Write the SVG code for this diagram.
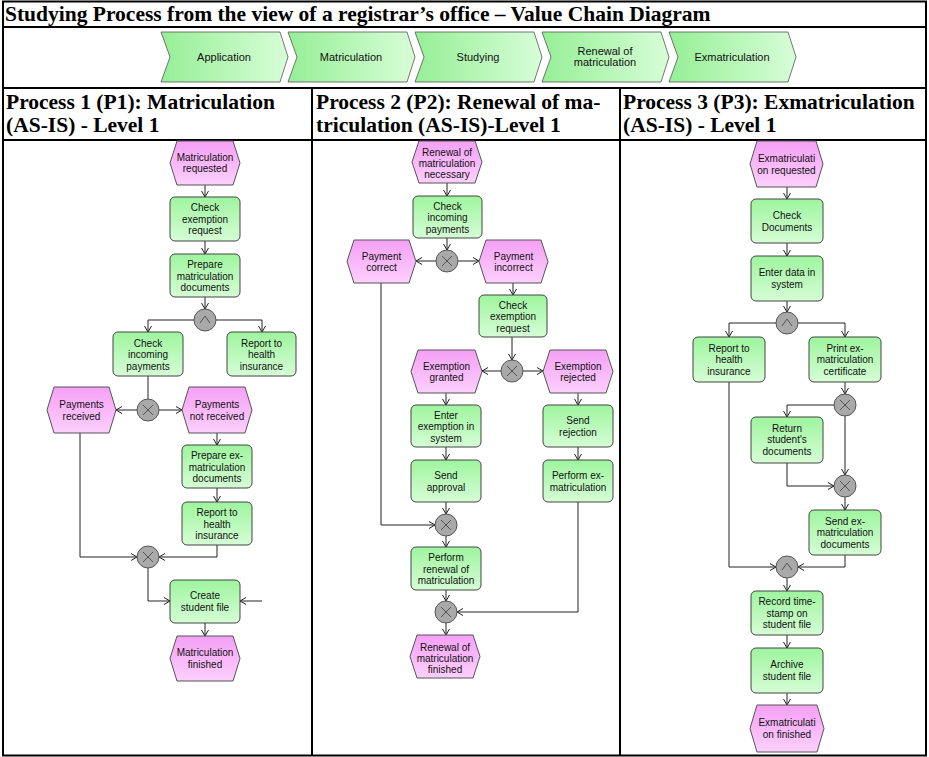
<svg xmlns="http://www.w3.org/2000/svg" width="929" height="757" viewBox="0 0 929 757">
<defs>
<linearGradient id="gF" x1="0" y1="0" x2="0" y2="1"><stop offset="0" stop-color="#9ef59e"/><stop offset="1" stop-color="#d6fdd6"/></linearGradient>
<linearGradient id="gE" x1="0" y1="0" x2="0" y2="1"><stop offset="0" stop-color="#f5a0f5"/><stop offset="1" stop-color="#fcd0fc"/></linearGradient>
<linearGradient id="gC" x1="0" y1="0" x2="1" y2="0"><stop offset="0" stop-color="#96ef96"/><stop offset="1" stop-color="#d8fdd8"/></linearGradient>
<marker id="ar" markerUnits="userSpaceOnUse" markerWidth="10" markerHeight="10" refX="6" refY="4" orient="auto"><path d="M0,0.5 L6,4 L0,7.5" fill="none" stroke="#222" stroke-width="1"/></marker>
<g id="xs"><path d="M-5,-5 L5,5 M5,-5 L-5,5" fill="none" stroke="#555" stroke-width="1"/></g>
<g id="as"><path d="M-5,3 L0,-4 L5,3" fill="none" stroke="#555" stroke-width="1"/></g>
</defs>
<style>
.tbl{fill:none;stroke:#000;stroke-width:2}
.ttl{font-family:"Liberation Serif","Times New Roman",serif;font-weight:bold;font-size:21.5px;fill:#000}
.chev{fill:url(#gC);stroke:#555;stroke-width:0.8}
.ct{font-family:"Liberation Sans",Arial,sans-serif;font-size:11px;text-anchor:middle;fill:#111}
.fn{fill:url(#gF);stroke:#444;stroke-width:1}
.ev{fill:url(#gE);stroke:#555;stroke-width:1}
.cn{fill:#a9a9a9;stroke:#555;stroke-width:1}
.t{font-family:"Liberation Sans",Arial,sans-serif;font-size:10px;text-anchor:middle;fill:#111}
.ln{fill:none;stroke:#222;stroke-width:1}
.la{fill:none;stroke:#222;stroke-width:1;marker-end:url(#ar)}
</style>
<rect width="929" height="757" fill="#fff"/>
<g id="table">
<rect class="tbl" x="3" y="1.5" width="923" height="754"/>
<path class="tbl" d="M3,27 H926 M3,88 H926 M3,140 H926 M312,88 V756 M620,88 V756"/>
</g>
<text class="ttl" x="5" y="20.5">Studying Process from the view of a registrar’s office – Value Chain Diagram</text>
<g id="valuechain">
<g id="vc1"><polygon class="chev" points="161,32 280,32 288,57 280,82 161,82 170,57"/><text class="ct" x="224" y="61">Application</text></g>
<g id="vc2"><polygon class="chev" points="288,32 407,32 415,57 407,82 288,82 297,57"/><text class="ct" x="351" y="61">Matriculation</text></g>
<g id="vc3"><polygon class="chev" points="415,32 534,32 542,57 534,82 415,82 424,57"/><text class="ct" x="478" y="61">Studying</text></g>
<g id="vc4"><polygon class="chev" points="542,32 661,32 669,57 661,82 542,82 551,57"/><text class="ct" x="605" y="55">Renewal of</text><text class="ct" x="605" y="66">matriculation</text></g>
<g id="vc5"><polygon class="chev" points="669,32 788,32 796,57 788,82 669,82 678,57"/><text class="ct" x="732" y="61">Exmatriculation</text></g>
</g>
<g id="headers">
<text class="ttl" x="6" y="108.5">Process 1 (P1): Matriculation</text>
<text class="ttl" x="6" y="132">(AS-IS) - Level 1</text>
<text class="ttl" x="316" y="108.5">Process 2 (P2): Renewal of ma-</text>
<text class="ttl" x="316" y="132">triculation (AS-IS)-Level 1</text>
<text class="ttl" x="623" y="108.5">Process 3 (P3): Exmatriculation</text>
<text class="ttl" x="623" y="132">(AS-IS) - Level 1</text>
</g>
<g id="connectors">
<path class="la" d="M205,185 V197"/>
<path class="la" d="M205,241 V254"/>
<path class="la" d="M205,297 V309"/>
<path class="la" d="M194,320 H148 V332"/>
<path class="la" d="M216,320 H262 V332"/>
<path class="ln" d="M148,376 V399"/>
<path class="la" d="M137,410 H116"/>
<path class="la" d="M159,410 H182"/>
<path class="la" d="M80,433 V557 H137"/>
<path class="la" d="M217,433 V445"/>
<path class="la" d="M217,488 V502"/>
<path class="la" d="M217,545 V557 H159"/>
<path class="la" d="M148,568 V601 H170"/>
<path class="la" d="M262,601 H240"/>
<path class="la" d="M205,623 V636"/>
<path class="la" d="M447,183 V196"/>
<path class="la" d="M447,238 V250"/>
<path class="la" d="M436,261 H416"/>
<path class="la" d="M458,261 H479"/>
<path class="la" d="M381,283 V525 H435"/>
<path class="la" d="M513,283 V295"/>
<path class="la" d="M512,337 V360"/>
<path class="la" d="M501,371 H482"/>
<path class="la" d="M523,371 H543"/>
<path class="la" d="M446,393 V405"/>
<path class="la" d="M578,393 V405"/>
<path class="la" d="M446,447 V460"/>
<path class="la" d="M578,447 V460"/>
<path class="la" d="M446,502 V514"/>
<path class="la" d="M446,536 V547"/>
<path class="la" d="M446,590 V601"/>
<path class="la" d="M578,502 V612 H457"/>
<path class="la" d="M446,623 V635"/>
<path class="la" d="M787,187 V199"/>
<path class="la" d="M787,243 V256"/>
<path class="la" d="M787,301 V312"/>
<path class="la" d="M776,323 H729 V337"/>
<path class="la" d="M798,323 H845 V337"/>
<path class="la" d="M845,382 V394"/>
<path class="la" d="M834,405 H787 V417"/>
<path class="la" d="M845,416 V475"/>
<path class="la" d="M787,463 V486 H834"/>
<path class="la" d="M845,497 V510"/>
<path class="la" d="M729,382 V567 H776"/>
<path class="la" d="M845,555 V567 H798"/>
<path class="la" d="M787,578 V591"/>
<path class="la" d="M787,635 V648"/>
<path class="la" d="M787,693 V705"/>
</g>
<g id="p1">
<g id="e1"><polygon class="ev" points="177,141 233,141 240,163 233,185 177,185 170,163"/><text class="t" x="205" y="160.5">Matriculation</text><text class="t" x="205" y="171.5">requested</text></g>
<g id="f1"><rect class="fn" x="170" y="197" width="70" height="44" rx="5"/><text class="t" x="205" y="211">Check</text><text class="t" x="205" y="222.5">exemption</text><text class="t" x="205" y="234">request</text></g>
<g id="f2"><rect class="fn" x="170" y="254" width="70" height="43" rx="5"/><text class="t" x="205" y="268">Prepare</text><text class="t" x="205" y="279.5">matriculation</text><text class="t" x="205" y="291">documents</text></g>
<g id="c1"><circle class="cn" cx="205" cy="320" r="11"/><use href="#as" x="205" y="320"/></g>
<g id="f3"><rect class="fn" x="113" y="332" width="70" height="44" rx="5"/><text class="t" x="148" y="346.5">Check</text><text class="t" x="148" y="358">incoming</text><text class="t" x="148" y="369.5">payments</text></g>
<g id="f4"><rect class="fn" x="227" y="332" width="69" height="44" rx="5"/><text class="t" x="261.5" y="346.5">Report to</text><text class="t" x="261.5" y="358">health</text><text class="t" x="261.5" y="369.5">insurance</text></g>
<g id="c2"><circle class="cn" cx="148" cy="410" r="11"/><use href="#xs" x="148" y="410"/></g>
<g id="e2"><polygon class="ev" points="54,387 109,387 116,410 109,433 54,433 47,410"/><text class="t" x="81.5" y="408">Payments</text><text class="t" x="81.5" y="419.5">received</text></g>
<g id="e3"><polygon class="ev" points="189,387 245,387 252,410 245,433 189,433 182,410"/><text class="t" x="217" y="408">Payments</text><text class="t" x="217" y="419.5">not received</text></g>
<g id="f5"><rect class="fn" x="182" y="445" width="70" height="43" rx="5"/><text class="t" x="217" y="459">Prepare ex-</text><text class="t" x="217" y="470.5">matriculation</text><text class="t" x="217" y="482">documents</text></g>
<g id="f6"><rect class="fn" x="182" y="502" width="70" height="43" rx="5"/><text class="t" x="217" y="516">Report to</text><text class="t" x="217" y="527.5">health</text><text class="t" x="217" y="539">insurance</text></g>
<g id="c3"><circle class="cn" cx="148" cy="557" r="11"/><use href="#xs" x="148" y="557"/></g>
<g id="f7"><rect class="fn" x="170" y="580" width="70" height="43" rx="5"/><text class="t" x="205" y="599">Create</text><text class="t" x="205" y="610.5">student file</text></g>
<g id="e4"><polygon class="ev" points="177,636 233,636 240,658.5 233,681 177,681 170,658.5"/><text class="t" x="205" y="656">Matriculation</text><text class="t" x="205" y="667.5">finished</text></g>
</g>
<g id="p2">
<g id="e5"><polygon class="ev" points="419,141 475,141 482,162 475,183 419,183 412,162"/><text class="t" x="447" y="155.5">Renewal of</text><text class="t" x="447" y="166.5">matriculation</text><text class="t" x="447" y="177.5">necessary</text></g>
<g id="f8"><rect class="fn" x="413" y="196" width="69" height="42" rx="5"/><text class="t" x="447.5" y="209.5">Check</text><text class="t" x="447.5" y="221">incoming</text><text class="t" x="447.5" y="232.5">payments</text></g>
<g id="c4"><circle class="cn" cx="447" cy="261" r="11"/><use href="#xs" x="447" y="261"/></g>
<g id="e6"><polygon class="ev" points="354,240 409,240 416,261.5 409,283 354,283 347,261.5"/><text class="t" x="381.5" y="259.5">Payment</text><text class="t" x="381.5" y="271">correct</text></g>
<g id="e7"><polygon class="ev" points="486,240 541,240 548,261.5 541,283 486,283 479,261.5"/><text class="t" x="513.5" y="259.5">Payment</text><text class="t" x="513.5" y="271">incorrect</text></g>
<g id="f9"><rect class="fn" x="479" y="295" width="68" height="42" rx="5"/><text class="t" x="513" y="308.5">Check</text><text class="t" x="513" y="320">exemption</text><text class="t" x="513" y="331.5">request</text></g>
<g id="c5"><circle class="cn" cx="512" cy="371" r="11"/><use href="#xs" x="512" y="371"/></g>
<g id="e8"><polygon class="ev" points="418,350 475,350 482,371.5 475,393 418,393 411,371.5"/><text class="t" x="446.5" y="369.5">Exemption</text><text class="t" x="446.5" y="381">granted</text></g>
<g id="e9"><polygon class="ev" points="550,350 606,350 613,371.5 606,393 550,393 543,371.5"/><text class="t" x="578" y="369.5">Exemption</text><text class="t" x="578" y="381">rejected</text></g>
<g id="f10"><rect class="fn" x="411" y="405" width="70" height="42" rx="5"/><text class="t" x="446" y="418.5">Enter</text><text class="t" x="446" y="430">exemption in</text><text class="t" x="446" y="441.5">system</text></g>
<g id="f11"><rect class="fn" x="543" y="405" width="70" height="42" rx="5"/><text class="t" x="578" y="424">Send</text><text class="t" x="578" y="435.5">rejection</text></g>
<g id="f12"><rect class="fn" x="411" y="460" width="70" height="42" rx="5"/><text class="t" x="446" y="479">Send</text><text class="t" x="446" y="490.5">approval</text></g>
<g id="f13"><rect class="fn" x="543" y="460" width="70" height="42" rx="5"/><text class="t" x="578" y="479">Perform ex-</text><text class="t" x="578" y="490.5">matriculation</text></g>
<g id="c6"><circle class="cn" cx="446" cy="525" r="11"/><use href="#xs" x="446" y="525"/></g>
<g id="f14"><rect class="fn" x="411" y="547" width="70" height="43" rx="5"/><text class="t" x="446" y="561">Perform</text><text class="t" x="446" y="572.5">renewal of</text><text class="t" x="446" y="584">matriculation</text></g>
<g id="c7"><circle class="cn" cx="446" cy="612" r="11"/><use href="#xs" x="446" y="612"/></g>
<g id="e10"><polygon class="ev" points="417,635 473,635 480,656.5 473,678 417,678 410,656.5"/><text class="t" x="445" y="650.5">Renewal of</text><text class="t" x="445" y="661.5">matriculation</text><text class="t" x="445" y="672.5">finished</text></g>
</g>
<g id="p3">
<g id="e11"><polygon class="ev" points="757,141 816,141 823,164 816,187 757,187 750,164"/><text class="t" x="786.5" y="161.5">Exmatriculati</text><text class="t" x="786.5" y="173.5">on requested</text></g>
<g id="f15"><rect class="fn" x="751" y="199" width="72" height="44" rx="5"/><text class="t" x="787" y="218.5">Check</text><text class="t" x="787" y="230.5">Documents</text></g>
<g id="f16"><rect class="fn" x="751" y="256" width="72" height="45" rx="5"/><text class="t" x="787" y="276">Enter data in</text><text class="t" x="787" y="288">system</text></g>
<g id="c8"><circle class="cn" cx="787" cy="323" r="11"/><use href="#as" x="787" y="323"/></g>
<g id="f17"><rect class="fn" x="693" y="337" width="72" height="45" rx="5"/><text class="t" x="729" y="351.5">Report to</text><text class="t" x="729" y="363">health</text><text class="t" x="729" y="374.5">insurance</text></g>
<g id="f18"><rect class="fn" x="809" y="337" width="72" height="45" rx="5"/><text class="t" x="845" y="351.5">Print ex-</text><text class="t" x="845" y="363">matriculation</text><text class="t" x="845" y="374.5">certificate</text></g>
<g id="c9"><circle class="cn" cx="845" cy="405" r="11"/><use href="#xs" x="845" y="405"/></g>
<g id="f19"><rect class="fn" x="751" y="417" width="72" height="46" rx="5"/><text class="t" x="787" y="431.5">Return</text><text class="t" x="787" y="443">student's</text><text class="t" x="787" y="454.5">documents</text></g>
<g id="c10"><circle class="cn" cx="845" cy="486" r="11"/><use href="#xs" x="845" y="486"/></g>
<g id="f20"><rect class="fn" x="809" y="510" width="72" height="45" rx="5"/><text class="t" x="845" y="524.5">Send ex-</text><text class="t" x="845" y="536">matriculation</text><text class="t" x="845" y="547.5">documents</text></g>
<g id="c11"><circle class="cn" cx="787" cy="567" r="11"/><use href="#as" x="787" y="567"/></g>
<g id="f21"><rect class="fn" x="751" y="591" width="72" height="44" rx="5"/><text class="t" x="787" y="605">Record time-</text><text class="t" x="787" y="616.5">stamp on</text><text class="t" x="787" y="628">student file</text></g>
<g id="f22"><rect class="fn" x="751" y="648" width="72" height="45" rx="5"/><text class="t" x="787" y="667.5">Archive</text><text class="t" x="787" y="679.5">student file</text></g>
<g id="e12"><polygon class="ev" points="757,705 817,705 824,728.5 817,752 757,752 750,728.5"/><text class="t" x="787" y="726">Exmatriculati</text><text class="t" x="787" y="738">on finished</text></g>
</g>
</svg>
